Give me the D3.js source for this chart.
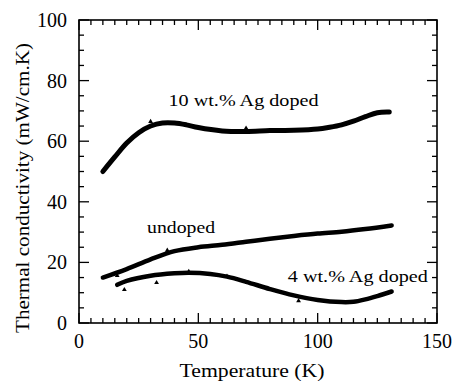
<!DOCTYPE html>
<html>
<head>
<meta charset="utf-8">
<script src="https://cdn.jsdelivr.net/npm/d3@7"></script>
<style>
  body { margin: 0; background: #fff; }
  svg text { font-family: 'Liberation Serif', 'DejaVu Serif', serif; fill: #000; }
</style>
</head>
<body>
<div id="chart"></div>
<script>
// smoothed curves
const tenTemps = [10, 15, 20, 25, 30, 35, 40, 45, 50, 60, 70, 80, 90, 100, 105, 110, 115, 120, 125, 130];
const tenValues = [50, 54.8, 59.4, 62.8, 65, 66, 66, 65.4, 64.5, 63.4, 63.2, 63.5, 63.6, 64, 64.6, 65.4, 66.6, 68.1, 69.4, 69.6];

const undopedTemps = [10, 20, 30, 40, 50, 60, 70, 80, 90, 100, 110, 120, 131];
const undopedValues = [15, 17.8, 21, 23.7, 25, 25.8, 26.8, 27.8, 28.7, 29.5, 30.1, 31, 32.2];

const fourTemps = [16, 20, 30, 40, 46, 55, 62, 70, 80, 90, 100, 110, 115, 120, 125, 131];
const fourValues = [12.6, 13.9, 15.6, 16.4, 16.6, 16.2, 15.3, 13.6, 11.2, 9.1, 7.6, 6.9, 7, 7.8, 8.9, 10.4];

// measured points that stick out from the curves
const pointTemps = [30, 70, 16, 37, 19, 32.5, 46, 62, 92];
const pointValues = [66.5, 64.3, 15.6, 24, 11, 13.3, 17, 15.4, 7.3];

const xTicks = [0, 50, 100, 150];
const yTicks = [0, 20, 40, 60, 80, 100];

const labels = [
    { text: '10 wt.% Ag doped', t: 37.5, v: 71.5, len: 150 },
    { text: 'undoped', t: 28.5, v: 29.7, len: 68 },
    { text: '4 wt.% Ag doped', t: 87.5, v: 13.5, len: 140 }
];

const width = 454;
const height = 383;
const margin = { top: 20, right: 17, bottom: 60, left: 79 };

const x = d3.scaleLinear().domain([0, 150]).range([margin.left, width - margin.right]);
const y = d3.scaleLinear().domain([0, 100]).range([height - margin.bottom, margin.top]);

const svg = d3.select('#chart')
    .append('svg')
    .attr('width', width)
    .attr('height', height);

const x0 = x.range()[0], x1 = x.range()[1];
const y0 = y.range()[0], y1 = y.range()[1];

// inward ticks on all four sides
const minorX = d3.range(0, 151, 5);
const minorY = d3.range(0, 101, 5);
const tickG = svg.append('g').attr('stroke', '#000').attr('stroke-width', 1.3);

tickG.selectAll('.tb').data(minorX).enter().append('line')
    .attr('x1', d => x(d)).attr('x2', d => x(d))
    .attr('y1', y0).attr('y2', d => y0 - (d % 50 === 0 ? 10 : 5));
tickG.selectAll('.tt').data(minorX).enter().append('line')
    .attr('x1', d => x(d)).attr('x2', d => x(d))
    .attr('y1', y1).attr('y2', d => y1 + (d % 50 === 0 ? 10 : 5));
tickG.selectAll('.tl').data(minorY).enter().append('line')
    .attr('y1', d => y(d)).attr('y2', d => y(d))
    .attr('x1', x0).attr('x2', d => x0 + (d % 20 === 0 ? 10 : 5));
tickG.selectAll('.tr').data(minorY).enter().append('line')
    .attr('y1', d => y(d)).attr('y2', d => y(d))
    .attr('x1', x1).attr('x2', d => x1 - (d % 20 === 0 ? 10 : 5));

svg.append('rect')
    .attr('x', x0).attr('y', y1)
    .attr('width', x1 - x0).attr('height', y0 - y1)
    .attr('fill', 'none').attr('stroke', '#000').attr('stroke-width', 1.6);

svg.append('g').selectAll('text').data(xTicks).enter().append('text')
    .attr('x', d => x(d)).attr('y', y0 + 25)
    .attr('text-anchor', 'middle')
    .style('font-size', '20px')
    .text(d => d);

svg.append('g').selectAll('text').data(yTicks).enter().append('text')
    .attr('x', x0 - 12).attr('y', d => y(d) + 7)
    .attr('text-anchor', 'end')
    .style('font-size', '20px')
    .text(d => d);

svg.append('text')
    .attr('x', 252).attr('y', 377)
    .attr('text-anchor', 'middle')
    .attr('textLength', 145).attr('lengthAdjust', 'spacingAndGlyphs')
    .style('font-size', '19px')
    .text('Temperature (K)');

svg.append('text')
    .attr('transform', 'translate(29,188) rotate(-90)')
    .attr('text-anchor', 'middle')
    .attr('textLength', 290).attr('lengthAdjust', 'spacingAndGlyphs')
    .style('font-size', '19px')
    .text('Thermal conductivity (mW/cm.K)');

const line = d3.line()
    .x(d => x(d[0]))
    .y(d => y(d[1]))
    .curve(d3.curveCatmullRom.alpha(0.5));

const series = [
    { temps: tenTemps, values: tenValues, w: 5 },
    { temps: undopedTemps, values: undopedValues, w: 4.5 },
    { temps: fourTemps, values: fourValues, w: 4.5 }
];

series.forEach(s => {
    svg.append('path')
        .datum(s.temps.map((t, i) => [t, s.values[i]]))
        .attr('d', line)
        .attr('fill', 'none')
        .attr('stroke', '#000')
        .attr('stroke-width', s.w)
        .attr('stroke-linecap', 'round');
});

svg.append('g').selectAll('path')
    .data(pointTemps.map((t, i) => [t, pointValues[i]]))
    .enter().append('path')
    .attr('transform', d => `translate(${x(d[0])},${y(d[1])})`)
    .attr('d', d3.symbol().type(d3.symbolTriangle).size(10))
    .attr('fill', '#000');

svg.append('g').selectAll('text').data(labels).enter().append('text')
    .attr('x', d => x(d.t)).attr('y', d => y(d.v))
    .attr('textLength', d => d.len).attr('lengthAdjust', 'spacingAndGlyphs')
    .style('font-size', '17px')
    .text(d => d.text);
</script>
</body>
</html>
